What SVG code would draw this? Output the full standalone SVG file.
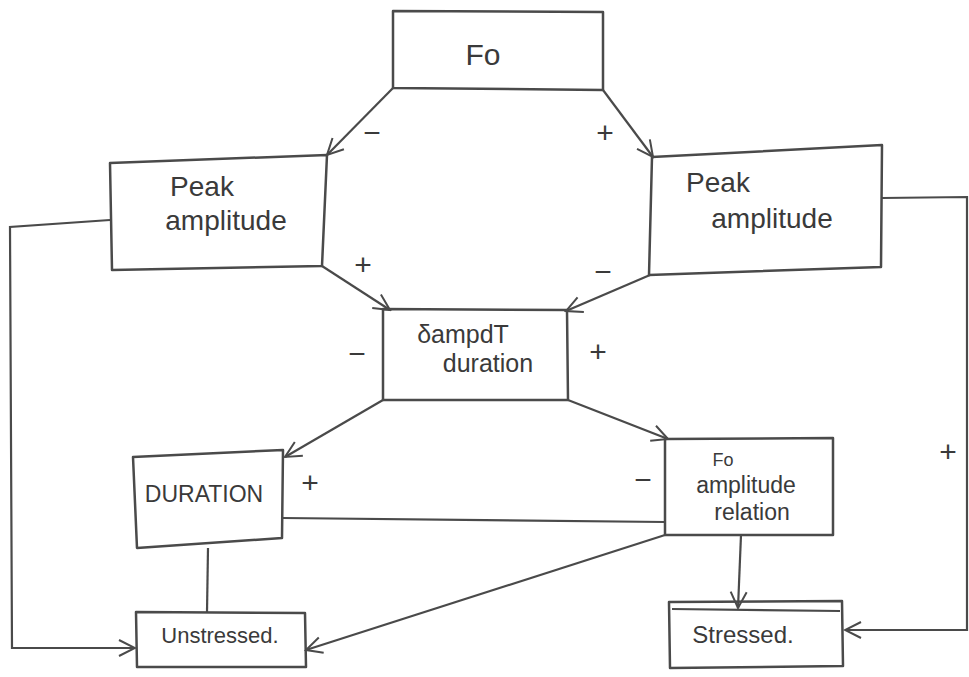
<svg xmlns="http://www.w3.org/2000/svg" width="969" height="677" viewBox="0 0 969 677">
<defs>
<marker id="arr" viewBox="0 0 20 20" refX="18" refY="10" markerWidth="20" markerHeight="20" markerUnits="userSpaceOnUse" orient="auto">
<path d="M2,2 L18,10 L2,18" fill="none" stroke="#4a4a4a" stroke-width="2"/>
</marker>
<style>
.box{fill:none;stroke:#4a4a4a;stroke-width:2.5;stroke-linejoin:round}
.ln{fill:none;stroke:#4a4a4a;stroke-width:2.2}
.t{font-family:"Liberation Sans","DejaVu Sans",sans-serif;fill:#3a3a3a;text-anchor:middle}
.s{font-family:"Liberation Sans","DejaVu Sans",sans-serif;fill:#3a3a3a;font-size:30px;text-anchor:middle}
</style>
</defs>
<rect width="969" height="677" fill="#ffffff"/>
<g id="connectors">
<path class="ln" d="M393,88 L327,155" marker-end="url(#arr)"/>
<path class="ln" d="M603,90 L653,157" marker-end="url(#arr)"/>
<path class="ln" d="M322,266 L390,310" marker-end="url(#arr)"/>
<path class="ln" d="M650,275 L566,311" marker-end="url(#arr)"/>
<path class="ln" d="M383,400 L285,457" marker-end="url(#arr)"/>
<path class="ln" d="M568,400 L668,439" marker-end="url(#arr)"/>
<path class="ln" d="M283,518 L665,522"/>
<path class="ln" d="M208,548 L207,612"/>
<path class="ln" d="M110,220 L10,227 L12,648 L135,648" marker-end="url(#arr)"/>
<path class="ln" d="M665,535 L306,650" marker-end="url(#arr)"/>
<path class="ln" d="M741,535 L738,608" marker-end="url(#arr)"/>
<path class="ln" d="M882,198 L967,197 L967,630 L845,630" marker-end="url(#arr)"/>
<text class="s" x="372" y="143">−</text>
<text class="s" x="605" y="143">+</text>
<text class="s" x="363" y="275">+</text>
<text class="s" x="603" y="282">−</text>
<text class="s" x="357" y="364">−</text>
<text class="s" x="598" y="362">+</text>
<text class="s" x="310" y="493">+</text>
<text class="s" x="643" y="490">−</text>
<text class="s" x="948" y="462">+</text>
</g>
<g id="node-fo">
<path class="box" d="M393,11 L603,12 L603,90 L393,88 Z"/>
<text class="t" x="483" y="65" font-size="30">Fo</text>
</g>
<g id="node-peak-left">
<path class="box" d="M110,163 L327,155 L322,266 L112,270 Z"/>
<text class="t" x="202" y="196" font-size="28">Peak</text>
<text class="t" x="226" y="230" font-size="28">amplitude</text>
</g>
<g id="node-peak-right">
<path class="box" d="M652,157 L882,145 L881,267 L649,275 Z"/>
<text class="t" x="718" y="192" font-size="28">Peak</text>
<text class="t" x="772" y="228" font-size="28">amplitude</text>
</g>
<g id="node-sampdt">
<path class="box" d="M383,309 L567,310 L568,400 L383,400 Z"/>
<text class="t" x="463" y="343" font-size="25">δampdT</text>
<text class="t" x="488" y="372" font-size="25">duration</text>
</g>
<g id="node-duration">
<path class="box" d="M133,457 L283,450 L282,538 L137,548 Z"/>
<text class="t" x="204" y="502" font-size="23">DURATION</text>
</g>
<g id="node-unstressed">
<path class="box" d="M136,612 L305,613 L306,667 L137,667 Z"/>
<text class="t" x="220" y="643" font-size="22">Unstressed.</text>
</g>
<g id="node-fo-relation">
<path class="box" d="M665,439 L833,438 L833,535 L665,535 Z"/>
<text class="t" x="723" y="466" font-size="18">Fo</text>
<text class="t" x="746" y="493" font-size="23">amplitude</text>
<text class="t" x="752" y="520" font-size="23">relation</text>
</g>
<g id="node-stressed">
<path class="box" d="M669,602 L842,601 L843,666 L670,668 Z"/>
<path class="ln" d="M672,609 L840,611"/>
<text class="t" x="743" y="643" font-size="24">Stressed.</text>
</g>
</svg>
